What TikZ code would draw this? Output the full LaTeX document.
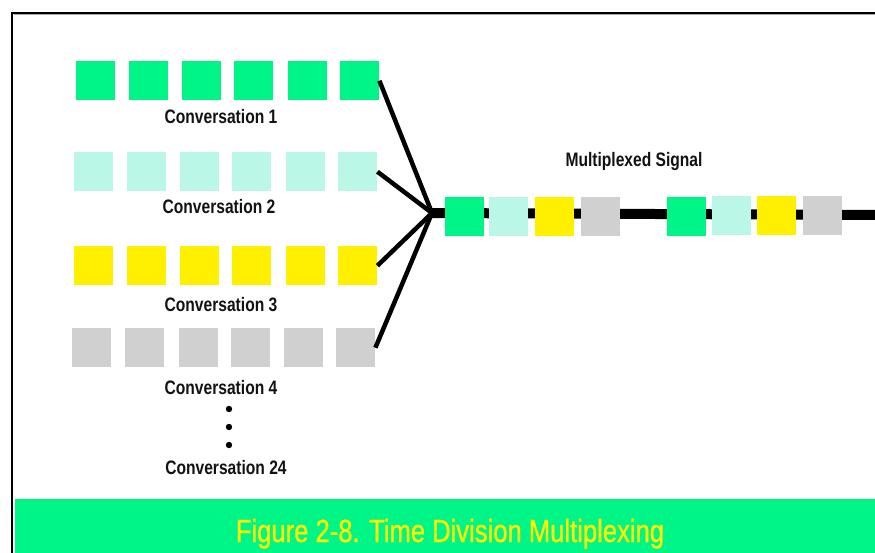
\documentclass[tikz,border=0pt]{standalone}
\usepackage{fontspec}
\setmainfont{Liberation Sans}
\newfontfamily\condfont{Liberation Sans}[FakeStretch=0.8]
\newfontfamily\titlefont{Liberation Sans}[FakeStretch=0.8,FakeBold=0.8]
\definecolor{cgreen}{HTML}{00F587}
\definecolor{cmint}{HTML}{BBF7E6}
\definecolor{cyellow}{HTML}{FFF000}
\definecolor{cgray}{HTML}{D0D0D0}
\begin{document}
\begin{tikzpicture}[x=1pt,y=-1pt,
  sq/.style={minimum width=39pt,minimum height=39pt,inner sep=0pt,draw=none,anchor=north west},
  lbl/.style={anchor=base,inner sep=0pt,font=\condfont\bfseries\fontsize{19.5}{19.5}\selectfont,text=black!93},
  feed/.style={line width=4.5pt,line cap=butt},
  bus/.style={line width=10pt,line cap=butt}]
\useasboundingbox (0,0) rectangle (875,552);
\begin{scope}
\clip (0,0) rectangle (875,552);
% frame
\draw[line width=2pt] (12,560) -- (12,12.5) -- (880,12.5);
\draw[black!35,line width=0.8pt] (14,14) -- (880,14);
% banner
\fill[cgreen] (15,499) rectangle (880,560);
\node[anchor=base,inner sep=0pt,text=cyellow,font=\titlefont\fontsize{32}{32}\selectfont] (title) at (450,542) {Figure 2-8. Time Division Multiplexing};

% fan point and bus
\coordinate (fan) at (432,213);
\coordinate (busend) at (880,215);
\draw[bus] (fan) -- (busend);

% rows
\foreach \x [count=\i] in {76,129,182,234,288,340}
  \node[sq,fill=cgreen] (a\i) at (\x,61) {};
\foreach \x [count=\i] in {74,127,180,232,286,338}
  \node[sq,fill=cmint] (b\i) at (\x,152) {};
\foreach \x [count=\i] in {74,127,180,232,286,338}
  \node[sq,fill=cyellow] (c\i) at (\x,246) {};
\foreach \x [count=\i] in {72,125,179,231,284,336}
  \node[sq,fill=cgray] (d\i) at (\x,328) {};

% feeders
\draw[feed] (a6.east) -- (fan);
\draw[feed] (b6.east) -- (fan);
\draw[feed] (c6.east) -- (fan);
\draw[feed] (d6.east) -- (fan);

% multiplexed squares
\node[sq,fill=cgreen]  (m1) at (445,197) {};
\node[sq,fill=cmint]   (m2) at (489,197) {};
\node[sq,fill=cyellow] (m3) at (535,197) {};
\node[sq,fill=cgray]   (m4) at (581,197) {};
\node[sq,fill=cgreen]  (m5) at (667,197) {};
\node[sq,fill=cmint]   (m6) at (712,196) {};
\node[sq,fill=cyellow] (m7) at (757,196) {};
\node[sq,fill=cgray]   (m8) at (803,196) {};

% labels
\node[lbl] (l1) at (221,123) {Conversation 1};
\node[lbl] (l2) at (219,213) {Conversation 2};
\node[lbl] (l3) at (221,311) {Conversation 3};
\node[lbl] (l4) at (221,394) {Conversation 4};
\node[lbl] (l24) at (226,474) {Conversation 24};
\node[lbl] (ml) at (634,166) {Multiplexed Signal};

% dots
\fill (229,409) circle (3.2);
\fill (229,427) circle (3.2);
\fill (229,445) circle (3.2);
\end{scope}
\end{tikzpicture}
\end{document}
